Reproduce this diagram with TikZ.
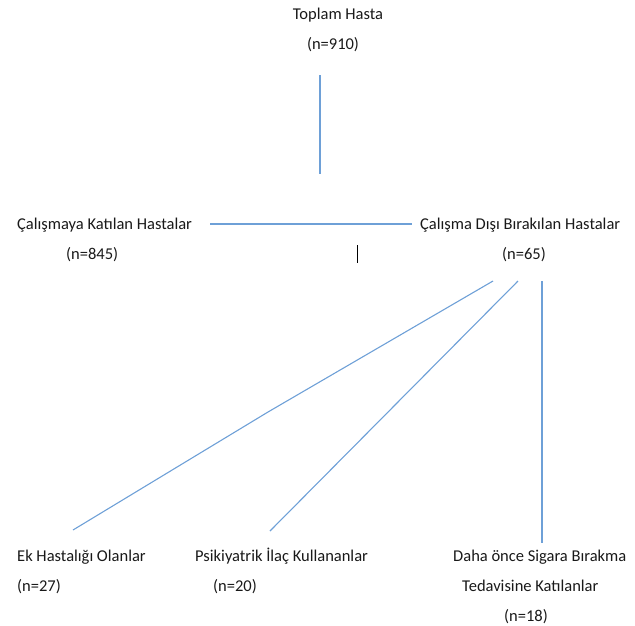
\documentclass[tikz,border=0pt]{standalone}
\usepackage{fontspec}
\setmainfont{Carlito}
\definecolor{linkblue}{RGB}{110,160,215}
\definecolor{txt}{RGB}{25,25,25}
\begin{document}
\begin{tikzpicture}[x=1pt,y=-1pt,
  lbl/.style={inner sep=0pt, font=\fontsize{16.5}{19}\selectfont, text=txt},
  conn/.style={draw=linkblue, line width=1.1pt}]
\useasboundingbox (0,0) rectangle (635,625);
% texts
\node[lbl,anchor=base] (top) at (338,19) {Toplam Hasta};
\node[lbl,anchor=base] (topn) at (333,49) {(n=910)};
\node[lbl,anchor=base west] (inc) at (17,229) {Çalışmaya Katılan Hastalar};
\node[lbl,anchor=base west] (incn) at (66,259) {(n=845)};
\node[lbl,anchor=base west] (exc) at (420,229) {Çalışma Dışı Bırakılan Hastalar};
\node[lbl,anchor=base] (excn) at (524,259) {(n=65)};
\node[lbl,anchor=base west] (ek) at (17,561) {Ek Hastalığı Olanlar};
\node[lbl,anchor=base west] (ekn) at (17,591) {(n=27)};
\node[lbl,anchor=base west] (psi) at (195,561) {Psikiyatrik İlaç Kullananlar};
\node[lbl,anchor=base west] (psin) at (213,591) {(n=20)};
\node[lbl,anchor=base west] (sig) at (453,561) {Daha önce Sigara Bırakma};
\node[lbl,anchor=base west] (sig2) at (462,591) {Tedavisine Katılanlar};
\node[lbl,anchor=base west] (sign) at (504,621) {(n=18)};
% connector ends
\coordinate (v1) at (320,75);
\coordinate (v2) at (320,174);
\coordinate (h1) at (210,224);
\coordinate (h2) at (412,224);
\coordinate (t1) at (357,245);
\coordinate (t2) at (357,263);
\coordinate (d1s) at (493,281);
\coordinate (d1m) at (268,412);
\coordinate (d1e) at (73,530);
\coordinate (d2s) at (518,281);
\coordinate (d2e) at (270,531);
\coordinate (d3s) at (542,281);
\coordinate (d3e) at (542,543);
% connectors
\draw[conn] (v1) -- (v2);
\draw[conn] (h1) -- (h2);
\draw[black, line width=1pt] (t1) -- (t2);
\draw[conn] (d1s) -- (d1m) -- (d1e);
\draw[conn] (d2s) -- (d2e);
\draw[conn] (d3s) -- (d3e);
\end{tikzpicture}
\end{document}
